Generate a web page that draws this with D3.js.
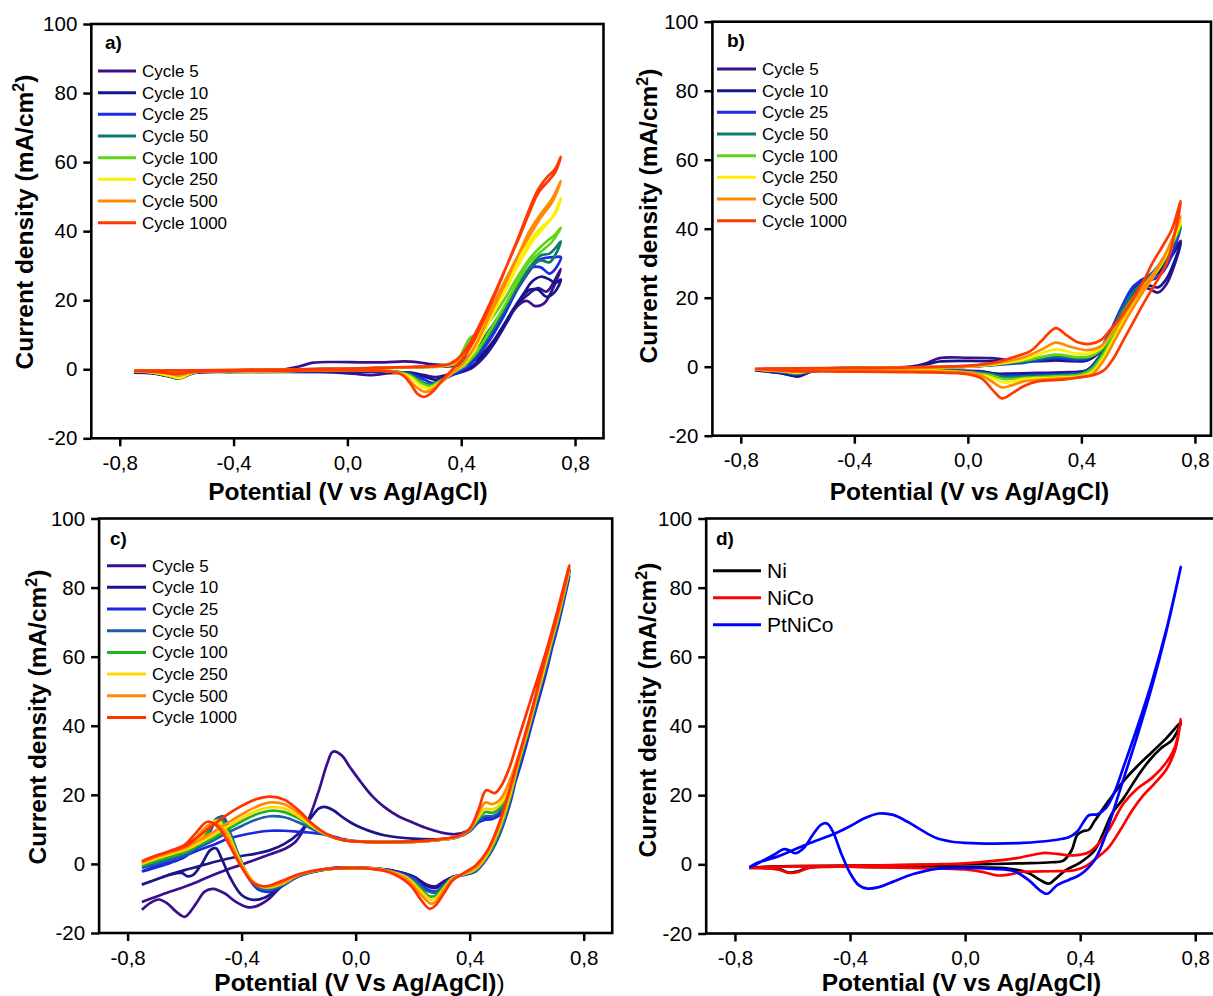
<!DOCTYPE html>
<html>
<head>
<meta charset="utf-8">
<script src="https://cdn.jsdelivr.net/npm/d3@7"></script>
<style>
  body { margin: 0; background: #fff; }
  svg { display: block; font-family: "Liberation Sans", Arial, sans-serif; }
  .tick text { font-size: 20.5px; fill: #000; }
  .tick line { stroke: #000; stroke-width: 2.5; }
</style>
</head>
<body>
<script>

// ---- data (potential V vs Ag/AgCl, current density mA/cm2), forward scan then reverse scan ----

var cycleNames = ["Cycle 5", "Cycle 10", "Cycle 25", "Cycle 50", "Cycle 100", "Cycle 250", "Cycle 500", "Cycle 1000"];
var colorsAB = ["#3b108c", "#15168a", "#1c2de6", "#0e7a6b", "#5fd418", "#ffee00", "#ff8c00", "#ff3a00"];
var colorsC = ["#3a0f8f", "#1a168a", "#1a28e0", "#1d5cb0", "#1fb41f", "#ffd800", "#ff8c00", "#ff3300"];
var materialNames = ["Ni", "NiCo", "PtNiCo"];
var colorsD = ["#000000", "#ff0000", "#0000ff"];
var xTicks = [-0.8, -0.4, 0, 0.4, 0.8];
var yTicks = [-20, 0, 20, 40, 60, 80, 100];

// panel a)
var a5 = [[-0.75,-0.8],[-0.6,-0.6],[-0.4,-0.4],[-0.22,0],[-0.17,0.8],[-0.12,1.9],[-0.05,2.1],[0.05,2],[0.13,2],[0.2,2.3],[0.25,2],[0.3,1.4],[0.35,1.2],[0.4,1.5],[0.44,2.6],[0.48,5],[0.52,9],[0.56,14],[0.6,18.5],[0.63,19.8],[0.66,18.3],[0.69,19],[0.72,23],[0.75,29],
  [0.73,26],[0.7,22.5],[0.67,23.5],[0.64,22],[0.6,19],[0.56,13.5],[0.52,8],[0.48,3.5],[0.44,0.5],[0.4,-0.8],[0.35,-1.6],[0.31,-2.3],[0.27,-1.7],[0.22,-1],[0.15,-1.1],[0.08,-1.7],[0.02,-1.3],[-0.1,-0.8],[-0.4,-0.8],[-0.54,-1.1],[-0.59,-2.6],[-0.63,-2],[-0.68,-1.2],[-0.75,-1]];
var a10 = [[-0.75,-0.8],[-0.5,-0.5],[-0.2,-0.1],[0,0.2],[0.2,0.5],[0.3,0.8],[0.38,1],[0.42,1.6],[0.46,3.2],[0.5,6.5],[0.54,11.5],[0.58,17],[0.62,22],[0.65,25.5],[0.68,26.8],[0.71,26],[0.73,25],[0.75,26],
  [0.73,22.5],[0.7,21],[0.67,23],[0.64,23],[0.6,19.5],[0.56,14],[0.52,8.5],[0.48,4],[0.44,1],[0.4,-0.8],[0.35,-2],[0.31,-3.1],[0.28,-2.4],[0.23,-1.2],[0.15,-0.8],[-0.3,-0.8],[-0.54,-1.1],[-0.59,-2.6],[-0.63,-2],[-0.68,-1.2],[-0.75,-0.8]];
var a25 = [[-0.75,-0.6],[-0.4,-0.3],[0,0.1],[0.2,0.5],[0.33,0.9],[0.38,1.3],[0.42,2.2],[0.46,5],[0.5,10],[0.55,16.5],[0.6,23.5],[0.64,28.5],[0.67,31.5],[0.7,32.3],[0.73,32.5],[0.75,32.5],
  [0.73,29],[0.71,27.7],[0.68,29.5],[0.65,29.5],[0.6,23.5],[0.55,15.5],[0.5,8.5],[0.45,3],[0.42,0.5],[0.38,-1.2],[0.34,-2.8],[0.3,-4],[0.27,-3],[0.23,-1.5],[0.15,-0.7],[-0.3,-0.7],[-0.54,-1],[-0.59,-2.3],[-0.63,-1.8],[-0.68,-1],[-0.75,-0.6]];
var a50 = [[-0.75,-0.6],[-0.4,-0.3],[0,0.1],[0.2,0.5],[0.33,0.9],[0.38,1.5],[0.42,3.5],[0.46,7],[0.5,11.5],[0.55,17.5],[0.6,24.5],[0.65,30.5],[0.68,33],[0.71,33.5],[0.73,35],[0.75,37],
  [0.73,33],[0.71,31],[0.68,31.5],[0.65,30],[0.6,24],[0.55,17],[0.5,10],[0.45,4],[0.41,1],[0.37,-1],[0.33,-3],[0.29,-4.5],[0.26,-3.6],[0.22,-1.5],[0.15,-0.6],[-0.3,-0.6],[-0.54,-0.9],[-0.59,-2.2],[-0.63,-1.7],[-0.68,-1],[-0.75,-0.6]];
var a100 = [[-0.75,-0.5],[-0.4,-0.3],[0,0.1],[0.2,0.5],[0.33,0.9],[0.38,1.8],[0.41,6],[0.43,9],[0.46,10.5],[0.5,14],[0.55,20],[0.6,27],[0.65,33],[0.7,37],[0.73,39],[0.75,41],
  [0.72,37],[0.68,34],[0.64,31],[0.6,25.5],[0.55,18],[0.5,11],[0.45,4.5],[0.41,1],[0.37,-1],[0.33,-3.2],[0.29,-4.9],[0.26,-4],[0.22,-1.8],[0.15,-0.6],[-0.3,-0.6],[-0.54,-0.9],[-0.59,-2.6],[-0.63,-1.8],[-0.68,-1],[-0.75,-0.5]];
var a250 = [[-0.75,-0.5],[-0.4,-0.3],[0,0.1],[0.2,0.5],[0.33,0.9],[0.38,1.8],[0.41,4.5],[0.44,8],[0.47,11],[0.5,15],[0.55,22],[0.6,30],[0.65,37],[0.7,42],[0.73,45],[0.75,49.5],
  [0.72,44],[0.68,41],[0.64,37],[0.6,31],[0.55,22.5],[0.5,14],[0.45,6],[0.41,1.5],[0.37,-1],[0.33,-3.5],[0.29,-5.5],[0.26,-5],[0.22,-2.2],[0.15,-0.6],[-0.3,-0.6],[-0.54,-0.9],[-0.59,-2.5],[-0.63,-1.8],[-0.68,-1],[-0.75,-0.5]];
var a500 = [[-0.75,-0.5],[-0.4,-0.3],[0,0.15],[0.2,0.55],[0.33,0.9],[0.38,2],[0.41,5],[0.44,8.5],[0.47,12.5],[0.5,17],[0.55,25],[0.6,33],[0.65,40],[0.68,44],[0.72,48.5],[0.75,54.5],
  [0.72,49.5],[0.68,45],[0.64,40],[0.6,33],[0.55,24],[0.5,15.5],[0.45,7],[0.41,2],[0.37,-1],[0.33,-3.8],[0.29,-6.2],[0.27,-6.5],[0.24,-5],[0.2,-1.8],[0.15,-0.6],[-0.3,-0.5],[-0.54,-0.8],[-0.59,-1.8],[-0.63,-1.3],[-0.68,-0.8],[-0.75,-0.5]];
var a1000 = [[-0.75,-0.4],[-0.4,-0.2],[0,0.2],[0.2,0.6],[0.3,0.9],[0.36,1.6],[0.4,4],[0.44,9],[0.48,15.5],[0.52,22.5],[0.56,30],[0.6,37.5],[0.64,45.5],[0.67,51],[0.7,54],[0.73,57],[0.75,61.5],
  [0.73,58],[0.7,55.5],[0.67,52],[0.64,46.5],[0.6,38],[0.56,30],[0.52,22],[0.48,14.5],[0.44,7.5],[0.4,2.5],[0.37,0],[0.33,-3.5],[0.3,-6.5],[0.27,-8],[0.245,-7],[0.22,-4],[0.19,-1.5],[0.14,-0.6],[-0.3,-0.5],[-0.54,-0.7],[-0.6,-1.4],[-0.65,-0.9],[-0.75,-0.4]];

// panel b)
var b5 = [[-0.75,-1],[-0.5,-0.5],[-0.2,0],[-0.15,0.9],[-0.1,2.5],[0,2.6],[0.08,2.5],[0.15,1.9],[0.25,1.6],[0.31,1.8],[0.37,1.6],[0.42,1.8],[0.46,4],[0.5,9],[0.54,16],[0.58,22],[0.61,24.5],[0.64,25.5],[0.67,27],[0.71,31],[0.75,36],
  [0.73,30],[0.7,24],[0.67,21.5],[0.64,22.5],[0.61,23],[0.58,20],[0.54,14],[0.5,7.5],[0.46,2],[0.42,-1],[0.35,-1.6],[0.25,-1.8],[0.15,-2],[0.1,-2],[0.04,-1.3],[-0.1,-1.1],[-0.4,-1],[-0.55,-1.4],[-0.6,-2.8],[-0.65,-2],[-0.75,-1]];
var b10 = [[-0.75,-1],[-0.5,-0.5],[-0.2,-0.1],[-0.15,0.6],[-0.1,1.5],[0,1.7],[0.1,1.6],[0.2,1.5],[0.31,2],[0.37,1.7],[0.42,1.9],[0.46,4],[0.5,9.5],[0.54,16.5],[0.58,22.5],[0.61,25],[0.64,26],[0.67,27.5],[0.71,31.5],[0.75,36.5],
  [0.73,31],[0.7,25.5],[0.67,23],[0.64,23.5],[0.61,23.5],[0.58,20.5],[0.54,14.5],[0.5,8],[0.46,2.5],[0.42,-1],[0.35,-1.8],[0.25,-2],[0.15,-2.3],[0.11,-2.3],[0.05,-1.5],[-0.1,-1.2],[-0.4,-1],[-0.55,-1.4],[-0.6,-2.8],[-0.65,-2],[-0.75,-1]];
var b25 = [[-0.75,-0.8],[-0.5,-0.5],[-0.2,-0.2],[0,0],[0.1,0.5],[0.2,1.2],[0.31,2.5],[0.37,2],[0.42,2.2],[0.46,4.5],[0.5,10],[0.54,17],[0.58,23],[0.61,25],[0.64,26.5],[0.67,29],[0.71,34],[0.75,40.5],
  [0.73,35],[0.7,29],[0.67,26],[0.64,25],[0.61,24],[0.58,20.5],[0.54,14.5],[0.5,8],[0.46,2.5],[0.42,-1.2],[0.35,-2],[0.25,-2.3],[0.15,-2.6],[0.11,-2.6],[0.05,-1.6],[-0.1,-1.1],[-0.4,-1],[-0.55,-1.3],[-0.6,-2.3],[-0.65,-1.7],[-0.75,-0.8]];
var b50 = [[-0.75,-0.8],[-0.5,-0.5],[-0.2,-0.2],[0,0],[0.1,0.6],[0.2,1.5],[0.31,3],[0.37,2.5],[0.42,2.6],[0.46,4.5],[0.5,9.5],[0.54,16],[0.58,21.5],[0.62,24.5],[0.66,28],[0.7,33],[0.75,40],
  [0.72,35],[0.68,29],[0.64,25.5],[0.6,22],[0.56,17],[0.52,11],[0.48,5],[0.44,0],[0.4,-2],[0.3,-2.5],[0.2,-2.8],[0.13,-3],[0.07,-2],[-0.1,-1.1],[-0.4,-1],[-0.55,-1.2],[-0.6,-2],[-0.65,-1.5],[-0.75,-0.8]];
var b100 = [[-0.75,-0.8],[-0.5,-0.5],[-0.2,-0.2],[0,0],[0.1,0.7],[0.2,1.8],[0.31,3.5],[0.38,2.8],[0.43,3],[0.47,5],[0.51,10],[0.55,16],[0.59,21],[0.63,24.5],[0.67,28.5],[0.71,34],[0.75,41],
  [0.72,35.5],[0.68,29.5],[0.64,25],[0.6,21],[0.56,16],[0.52,10],[0.48,4],[0.44,-0.5],[0.4,-2.3],[0.3,-2.8],[0.2,-3.2],[0.13,-3.6],[0.07,-2.3],[-0.1,-1.1],[-0.4,-1],[-0.55,-1.2],[-0.6,-1.9],[-0.65,-1.4],[-0.75,-0.8]];
var b250 = [[-0.75,-0.8],[-0.5,-0.5],[-0.2,-0.2],[0,0.1],[0.1,0.8],[0.2,2.2],[0.31,5],[0.38,3.8],[0.43,3.8],[0.47,5.5],[0.51,10],[0.55,15.5],[0.59,20.5],[0.63,24.5],[0.67,28.5],[0.71,34],[0.75,42],
  [0.72,36],[0.68,29.5],[0.64,24.5],[0.6,20],[0.56,15],[0.52,9],[0.48,3],[0.44,-1.5],[0.4,-2.8],[0.3,-3.2],[0.2,-3.6],[0.13,-4.6],[0.07,-2.8],[-0.1,-1.2],[-0.4,-1],[-0.55,-1.1],[-0.6,-1.7],[-0.65,-1.3],[-0.75,-0.8]];
var b500 = [[-0.75,-0.7],[-0.5,-0.5],[-0.2,-0.2],[0,0.1],[0.1,1],[0.2,2.8],[0.26,5],[0.31,7],[0.36,5.8],[0.42,4.8],[0.47,6],[0.51,10],[0.55,15],[0.59,20],[0.63,24.5],[0.67,29],[0.71,35],[0.75,43.5],
  [0.72,37],[0.68,30],[0.64,24.5],[0.6,19.5],[0.56,14],[0.52,8],[0.48,2],[0.44,-2],[0.4,-3],[0.3,-3.5],[0.2,-4.2],[0.15,-5.5],[0.12,-6],[0.08,-4],[0.03,-2],[-0.1,-1.4],[-0.4,-1],[-0.55,-1.1],[-0.6,-1.5],[-0.65,-1.2],[-0.75,-0.7]];
var b1000 = [[-0.75,-0.6],[-0.5,-0.4],[-0.2,-0.2],[0,0.3],[0.1,1.3],[0.17,3],[0.22,4.5],[0.26,7.5],[0.31,11.2],[0.35,9],[0.39,7],[0.43,6.6],[0.47,7.8],[0.5,10.5],[0.54,14.5],[0.58,19.5],[0.62,25],[0.65,30],[0.69,35.5],[0.72,40],[0.75,48],
  [0.73,39],[0.7,30],[0.66,24],[0.62,18.5],[0.58,12.5],[0.55,8],[0.51,2],[0.48,-1],[0.44,-2.5],[0.4,-3],[0.34,-3.7],[0.25,-4.2],[0.2,-5.5],[0.16,-7.5],[0.12,-9.2],[0.09,-7],[0.05,-3.5],[0,-2.2],[-0.2,-1.6],[-0.45,-1.4],[-0.6,-1.3],[-0.75,-0.6]];

// panel c)
var c5 = [[-0.75,-11],[-0.7,-9.5],[-0.65,-8],[-0.6,-6.6],[-0.55,-5],[-0.5,-3.2],[-0.45,-1.6],[-0.4,-0.2],[-0.35,1.3],[-0.3,2.8],[-0.25,4.3],[-0.21,6.5],[-0.17,12],[-0.13,21],[-0.1,29],[-0.08,32.5],[-0.05,31.5],[-0.02,28],[0.02,23.5],[0.06,19.5],[0.1,16.5],[0.15,13.8],[0.2,12],[0.25,10.3],[0.3,9.1],[0.35,8.6],[0.39,9.5],[0.42,11.5],[0.45,13.5],[0.48,13.5],[0.51,15.5],[0.54,21],[0.58,31],[0.62,43],[0.67,58],[0.71,71],[0.75,85],
  [0.71,72],[0.66,57],[0.61,41],[0.57,29],[0.54,19],[0.5,9],[0.46,2.5],[0.42,-1.5],[0.38,-3],[0.34,-3.8],[0.31,-5],[0.28,-6.5],[0.25,-6],[0.2,-3.5],[0.12,-1.8],[0.05,-1.2],[-0.05,-1.1],[-0.12,-1.7],[-0.2,-3.5],[-0.26,-6.5],[-0.31,-10.5],[-0.35,-12.3],[-0.38,-12.5],[-0.42,-11],[-0.46,-8.5],[-0.5,-7.2],[-0.53,-8],[-0.56,-11.5],[-0.6,-15.3],[-0.63,-13.8],[-0.66,-11.5],[-0.69,-10.3],[-0.72,-11.3],[-0.75,-13.3]];
var c10 = [[-0.75,-6],[-0.7,-4.5],[-0.65,-3],[-0.6,-1.8],[-0.55,-0.7],[-0.5,0.5],[-0.45,1.5],[-0.4,2.3],[-0.35,3],[-0.3,4],[-0.25,5.8],[-0.2,8.8],[-0.16,13],[-0.13,16],[-0.11,16.5],[-0.08,15.6],[-0.04,13.2],[0,11.2],[0.05,9.5],[0.1,8.3],[0.2,7.3],[0.3,7.2],[0.36,7.9],[0.4,9.5],[0.43,12],[0.455,13],[0.48,13.2],[0.51,15.5],[0.54,21],[0.58,31],[0.62,43],[0.67,58],[0.71,71],[0.75,85],
  [0.71,72],[0.66,57],[0.61,41],[0.57,29],[0.54,19],[0.5,9],[0.46,2.5],[0.42,-1.5],[0.38,-3],[0.34,-3.8],[0.31,-5.3],[0.28,-7],[0.25,-6.4],[0.2,-3.7],[0.12,-1.8],[0.05,-1.2],[-0.05,-1.1],[-0.12,-1.7],[-0.2,-3.5],[-0.27,-7],[-0.32,-9.8],[-0.36,-10.4],[-0.4,-9],[-0.44,-4],[-0.47,1.5],[-0.49,4.5],[-0.51,4],[-0.54,0],[-0.57,-3.2],[-0.59,-3.6],[-0.61,-2.6],[-0.65,-3.1],[-0.7,-4.5],[-0.75,-6]];
var c25 = [[-0.75,-2.2],[-0.7,-0.6],[-0.65,0.8],[-0.6,2.3],[-0.55,4],[-0.5,5.5],[-0.45,7.2],[-0.4,8.3],[-0.35,9.1],[-0.3,9.6],[-0.25,9.6],[-0.2,9.3],[-0.15,9],[-0.1,8.4],[-0.05,7.3],[0,6.6],[0.1,6.3],[0.2,6.4],[0.3,7],[0.36,7.8],[0.4,9.5],[0.43,12],[0.455,12.8],[0.48,13],[0.51,14.5],[0.54,19],[0.58,29],[0.62,41],[0.67,56],[0.71,70],[0.75,83.5],
  [0.71,69],[0.66,54],[0.61,38],[0.57,27],[0.54,17],[0.5,7.5],[0.46,1.5],[0.42,-2.2],[0.38,-3.2],[0.34,-4],[0.31,-6],[0.28,-8],[0.25,-7.3],[0.2,-4],[0.12,-2],[0.05,-1.3],[-0.05,-1.2],[-0.12,-1.8],[-0.2,-3.6],[-0.26,-6.5],[-0.3,-8],[-0.34,-7.5],[-0.38,-3.5],[-0.41,2],[-0.44,8.5],[-0.47,13.5],[-0.49,13],[-0.52,8.5],[-0.56,4.5],[-0.6,2],[-0.65,0.3],[-0.7,-1],[-0.75,-2.2]];
var c50 = [[-0.75,-1.2],[-0.7,0.2],[-0.65,1.6],[-0.6,3],[-0.55,4.8],[-0.5,6.8],[-0.45,9],[-0.4,11],[-0.35,12.8],[-0.3,13.8],[-0.25,13.5],[-0.2,12],[-0.15,10],[-0.1,8.2],[-0.05,7],[0,6.5],[0.1,6.3],[0.2,6.4],[0.3,7],[0.36,7.8],[0.4,9.6],[0.43,12.3],[0.455,13.8],[0.48,13.8],[0.51,15.5],[0.54,20.5],[0.58,30.5],[0.62,42.5],[0.67,57.5],[0.71,71],[0.75,84.5],
  [0.71,70],[0.66,55],[0.61,39],[0.57,28],[0.54,18],[0.5,8],[0.46,2],[0.42,-2],[0.38,-3.1],[0.34,-4],[0.31,-6],[0.28,-8.3],[0.25,-7.8],[0.2,-4.3],[0.12,-2],[0.05,-1.3],[-0.05,-1.2],[-0.12,-1.8],[-0.2,-3.5],[-0.26,-6.2],[-0.3,-7.5],[-0.34,-7],[-0.38,-3],[-0.41,2.5],[-0.44,9],[-0.465,13.8],[-0.49,12.5],[-0.52,8],[-0.56,4.5],[-0.6,2.5],[-0.65,1.2],[-0.7,0],[-0.75,-1.2]];
var c100 = [[-0.75,-0.5],[-0.7,1],[-0.65,2.3],[-0.6,3.5],[-0.55,5.5],[-0.5,7.5],[-0.45,10],[-0.4,12.3],[-0.35,14.3],[-0.3,15.4],[-0.25,15],[-0.2,13.2],[-0.15,10.5],[-0.1,8.3],[-0.05,7],[0,6.5],[0.1,6.3],[0.2,6.4],[0.3,7],[0.36,7.9],[0.4,9.8],[0.43,13],[0.455,15],[0.48,14.8],[0.51,16.5],[0.54,21.5],[0.58,31.5],[0.62,43.5],[0.67,58.5],[0.71,72],[0.75,85],
  [0.71,71],[0.66,56],[0.61,40],[0.57,28.5],[0.54,18.5],[0.5,8.5],[0.46,2],[0.42,-1.8],[0.38,-3],[0.34,-4],[0.31,-6.5],[0.28,-9.2],[0.26,-9.4],[0.22,-6.5],[0.17,-3.5],[0.1,-1.8],[0.05,-1.3],[-0.05,-1.2],[-0.12,-1.7],[-0.2,-3.3],[-0.26,-6],[-0.31,-7],[-0.35,-6],[-0.39,-1.5],[-0.42,4],[-0.45,10],[-0.475,13],[-0.5,12],[-0.53,8],[-0.57,4.5],[-0.61,3],[-0.65,2],[-0.7,0.8],[-0.75,-0.5]];
var c250 = [[-0.75,0],[-0.7,1.6],[-0.65,2.9],[-0.6,4],[-0.55,6],[-0.5,8.3],[-0.45,10.8],[-0.4,13.2],[-0.35,15.3],[-0.3,16.4],[-0.25,16],[-0.2,13.8],[-0.15,10.8],[-0.1,8.4],[-0.05,7],[0,6.5],[0.1,6.3],[0.2,6.4],[0.3,7],[0.36,7.9],[0.4,9.9],[0.43,13.5],[0.455,16],[0.48,15.8],[0.51,17.5],[0.54,22.5],[0.58,32.5],[0.62,44],[0.67,59],[0.71,72.5],[0.75,85.5],
  [0.71,71.5],[0.66,56.5],[0.61,40.5],[0.57,29],[0.54,19.5],[0.5,9.5],[0.46,2.5],[0.42,-1.5],[0.38,-2.9],[0.34,-4.2],[0.31,-7],[0.28,-10],[0.265,-10.4],[0.23,-8],[0.18,-4],[0.1,-1.8],[0.05,-1.3],[-0.05,-1.2],[-0.12,-1.7],[-0.2,-3.2],[-0.26,-5.8],[-0.31,-6.8],[-0.35,-5.8],[-0.39,-1.5],[-0.42,3.5],[-0.45,9],[-0.485,12.5],[-0.51,11.5],[-0.54,8],[-0.58,5],[-0.62,3.5],[-0.66,2.5],[-0.7,1.5],[-0.75,0]];
var c500 = [[-0.75,0.4],[-0.7,2],[-0.65,3.3],[-0.6,4.5],[-0.55,6.8],[-0.5,9.2],[-0.45,11.8],[-0.4,14.3],[-0.35,16.5],[-0.3,17.8],[-0.25,17.3],[-0.2,14.7],[-0.15,11.2],[-0.1,8.5],[-0.05,7],[0,6.5],[0.1,6.3],[0.2,6.4],[0.3,7.1],[0.36,8],[0.4,10],[0.43,14.5],[0.455,17.8],[0.48,17.3],[0.51,19],[0.54,24],[0.58,33.5],[0.62,45],[0.67,60],[0.71,73],[0.75,86],
  [0.71,72],[0.66,57],[0.61,41],[0.57,29.5],[0.54,20.5],[0.5,10],[0.46,3],[0.42,-1.2],[0.38,-2.8],[0.34,-4.4],[0.31,-7.5],[0.28,-11],[0.265,-11.5],[0.23,-9],[0.18,-4.5],[0.1,-1.8],[0.05,-1.3],[-0.05,-1.2],[-0.12,-1.7],[-0.2,-3.1],[-0.26,-5.6],[-0.315,-6.6],[-0.36,-5.2],[-0.4,-0.5],[-0.43,4.5],[-0.46,9.5],[-0.495,11.8],[-0.52,11],[-0.55,8.5],[-0.59,5.5],[-0.63,4],[-0.67,3],[-0.71,2],[-0.75,0.4]];
var c1000 = [[-0.75,0.8],[-0.7,2.4],[-0.65,3.7],[-0.6,5],[-0.55,8],[-0.5,11.3],[-0.45,14.3],[-0.4,16.8],[-0.35,18.7],[-0.3,19.5],[-0.25,18.6],[-0.2,15.5],[-0.15,11.5],[-0.1,8.6],[-0.05,7],[0,6.5],[0.1,6.3],[0.2,6.5],[0.3,7.2],[0.36,8.1],[0.4,10.2],[0.43,15.5],[0.458,21.3],[0.488,20.5],[0.51,22.5],[0.54,28],[0.57,36],[0.62,49],[0.67,62],[0.71,74],[0.75,86.5],
  [0.71,73],[0.66,58],[0.61,42],[0.57,30.5],[0.54,21.5],[0.5,11],[0.46,3.5],[0.42,-0.5],[0.38,-2.6],[0.34,-4.8],[0.31,-8.5],[0.28,-12],[0.26,-13],[0.23,-10.5],[0.19,-6],[0.12,-2.5],[0.05,-1.4],[-0.05,-1.2],[-0.12,-1.6],[-0.2,-3],[-0.27,-5.3],[-0.32,-6.5],[-0.36,-5.5],[-0.4,-1],[-0.44,5],[-0.48,10.5],[-0.52,12.2],[-0.56,9],[-0.6,5.5],[-0.65,3.8],[-0.7,2.3],[-0.75,0.8]];

// panel d)
var dNi = [[-0.75,-1],[-0.7,-0.7],[-0.6,-0.5],[-0.4,-0.4],[-0.2,-0.2],[0,0],[0.1,0.1],[0.2,0.3],[0.3,0.6],[0.34,1],[0.37,4],[0.39,8.5],[0.41,9.6],[0.43,10],[0.45,12.5],[0.5,18.5],[0.55,24],[0.6,28.5],[0.65,32.5],[0.7,36.5],[0.75,41],
  [0.72,36],[0.68,33.5],[0.64,30],[0.6,25.5],[0.55,19],[0.51,14.6],[0.48,9],[0.45,4],[0.4,0.5],[0.35,-1.7],[0.31,-4.5],[0.29,-5.6],[0.26,-4.5],[0.22,-2.5],[0.15,-1.2],[0.05,-0.9],[-0.3,-0.8],[-0.54,-0.9],[-0.58,-2],[-0.61,-2.4],[-0.65,-1.3],[-0.75,-1]];
var dNiCo = [[-0.75,-1],[-0.6,-0.6],[-0.3,-0.3],[-0.1,0],[0,0.3],[0.1,1],[0.18,1.8],[0.25,3],[0.28,3.3],[0.32,3],[0.38,2.6],[0.43,3.5],[0.47,6.5],[0.5,10],[0.55,17.5],[0.6,22],[0.65,25],[0.7,29.5],[0.73,34],[0.75,42],
  [0.73,33],[0.7,27.5],[0.66,23.5],[0.62,20],[0.58,15.5],[0.54,10],[0.5,5],[0.46,2],[0.42,-0.5],[0.38,-1.7],[0.3,-2],[0.2,-2.2],[0.15,-3],[0.11,-3.2],[0.06,-2.2],[0,-1.5],[-0.2,-1],[-0.54,-1],[-0.58,-2.2],[-0.61,-2.5],[-0.65,-1.5],[-0.75,-1]];
var dPtNiCo = [[-0.75,-0.8],[-0.72,0.5],[-0.65,2.3],[-0.55,5.8],[-0.45,9],[-0.4,11],[-0.35,13.3],[-0.3,14.7],[-0.25,14.3],[-0.2,12.3],[-0.15,9.8],[-0.1,7.6],[-0.05,6.6],[0,6.2],[0.1,6],[0.2,6.2],[0.3,6.9],[0.36,7.8],[0.39,9.5],[0.41,12],[0.43,14.2],[0.46,14.5],[0.49,16.3],[0.52,21],[0.55,28],[0.6,40],[0.65,53],[0.7,68],[0.75,86],
  [0.7,67.5],[0.65,51.5],[0.6,37.5],[0.55,24.5],[0.51,14],[0.48,6.5],[0.45,1.2],[0.4,-3],[0.36,-4.5],[0.32,-6],[0.285,-8.5],[0.26,-7.5],[0.22,-4.5],[0.17,-2],[0.1,-1.3],[0,-1],[-0.1,-1.3],[-0.18,-2.8],[-0.25,-5],[-0.3,-6.6],[-0.34,-7],[-0.37,-6],[-0.4,-2.5],[-0.43,3],[-0.46,9.5],[-0.48,11.8],[-0.5,11.5],[-0.53,8.5],[-0.56,4.8],[-0.59,3.2],[-0.61,4],[-0.63,4.4],[-0.66,3],[-0.7,1.2],[-0.73,-0.2],[-0.75,-0.8]];


var svg = d3.select("body").append("svg")
    .attr("width", 1213)
    .attr("height", 996);

svg.append("rect").attr("width", 1213).attr("height", 996).attr("fill", "#fff");

var panels = [
    { label: "a)", lx: 105, ly: 49, xr: [91.3, 603.5], yr: [438.3, 24], right: 603.5,
      series: [a5, a10, a25, a50, a100, a250, a500, a1000], names: cycleNames, colors: colorsAB,
      leg: { x1: 98, x2: 136, tx: 142, y0: 71, dy: 21.67, fs: 17 },
      xt: "Potential (V vs Ag/AgCl)", xtx: 348, xty: 500, ytx: 33, yty: 222 },
    { label: "b)", lx: 727, ly: 46.5, xr: [712.4, 1223.3], yr: [435.7, 21.7], right: 1211,
      series: [b5, b10, b25, b50, b100, b250, b500, b1000], names: cycleNames, colors: colorsAB,
      leg: { x1: 717, x2: 756, tx: 762, y0: 69, dy: 21.67, fs: 17 },
      xt: "Potential (V vs Ag/AgCl)", xtx: 969.5, xty: 500, ytx: 657, yty: 216 },
    { label: "c)", lx: 110, ly: 545, xr: [99.1, 612.2], yr: [933, 518.5], right: 612.2,
      series: [c5, c10, c25, c50, c100, c250, c500, c1000], names: cycleNames, colors: colorsC,
      leg: { x1: 107, x2: 146, tx: 152, y0: 565.7, dy: 21.67, fs: 17 },
      xt: "Potential (V Vs Ag/AgCl)", xtExtra: ")", xtx: 359.5, xty: 991, ytx: 46, yty: 717 },
    { label: "d)", lx: 716, ly: 545, xr: [706.2, 1224], yr: [933.5, 518.5], right: 1230,
      series: [dNi, dNiCo, dPtNiCo], names: materialNames, colors: colorsD,
      leg: { x1: 713, x2: 761, tx: 767, y0: 570.7, dy: 27, fs: 21 },
      xt: "Potential (V vs Ag/AgCl)", xtx: 961.5, xty: 991, ytx: 656, yty: 710 }
];

panels.forEach(drawPanel);

function drawPanel(p) {

    var x = d3.scaleLinear().domain([-0.9, 0.9]).range(p.xr),
        y = d3.scaleLinear().domain([-20, 100]).range(p.yr);

    var g = svg.append("g");

    var line = d3.line()
        .x(function (d) { return x(d[0]); })
        .y(function (d) { return y(d[1]); })
        .curve(d3.curveCatmullRom.alpha(0.5));

    // curves
    g.selectAll(".cv")
        .data(p.series)
        .enter()
        .append("path")
        .attr("class", "cv")
        .attr("d", line)
        .attr("fill", "none")
        .attr("stroke", function (d, i) { return p.colors[i]; })
        .attr("stroke-width", 2.7)
        .attr("stroke-linejoin", "round");

    // axes
    g.append("g")
        .attr("transform", "translate(0," + p.yr[0] + ")")
        .call(d3.axisBottom(x).tickValues(xTicks).tickSize(8).tickPadding(9).tickSizeOuter(0)
            .tickFormat(function (d) { return d3.format(".1f")(d).replace("\u2212", "-").replace(".", ","); }))
        .call(function (a) { a.select(".domain").remove(); });

    g.append("g")
        .attr("transform", "translate(" + p.xr[0] + ",0)")
        .call(d3.axisLeft(y).tickValues(yTicks).tickSize(8).tickPadding(6).tickSizeOuter(0)
            .tickFormat(function (d) { return String(d); }))
        .call(function (a) { a.select(".domain").remove(); });

    g.selectAll(".tick text").attr("font-family", "'Liberation Sans', Arial, sans-serif");

    // frame
    g.append("rect")
        .attr("x", p.xr[0])
        .attr("y", p.yr[1])
        .attr("width", p.right - p.xr[0])
        .attr("height", p.yr[0] - p.yr[1])
        .attr("fill", "none")
        .attr("stroke", "#000")
        .attr("stroke-width", 2.6);

    // panel letter
    g.append("text")
        .attr("x", p.lx)
        .attr("y", p.ly)
        .text(p.label)
        .style("font-size", "19px")
        .style("font-weight", "bold");

    // legend
    var leg = g.selectAll(".leg")
        .data(p.names)
        .enter()
        .append("g")
        .attr("transform", function (d, i) { return "translate(0," + (p.leg.y0 + i * p.leg.dy) + ")"; });

    leg.append("line")
        .attr("x1", p.leg.x1)
        .attr("x2", p.leg.x2)
        .attr("stroke", function (d, i) { return p.colors[i]; })
        .attr("stroke-width", 3);

    leg.append("text")
        .attr("x", p.leg.tx)
        .attr("dy", "0.35em")
        .text(function (d) { return d; })
        .style("font-size", p.leg.fs + "px");

    // x title
    var xt = g.append("text")
        .attr("x", p.xtx)
        .attr("y", p.xty)
        .attr("text-anchor", "middle")
        .style("font-size", "24.5px")
        .style("font-weight", "bold");
    xt.append("tspan").text(p.xt);
    if (p.xtExtra) xt.append("tspan").style("font-weight", "normal").text(p.xtExtra);

    // y title
    var yt = g.append("text")
        .attr("transform", "translate(" + p.ytx + "," + p.yty + ") rotate(-90)")
        .attr("text-anchor", "middle")
        .style("font-size", "24.5px")
        .style("font-weight", "bold");
    yt.append("tspan").text("Current density (mA/cm");
    yt.append("tspan").attr("dy", -9).style("font-size", "16px").text("2");
    yt.append("tspan").attr("dy", 9).text(")");
}

</script>
</body>
</html>
